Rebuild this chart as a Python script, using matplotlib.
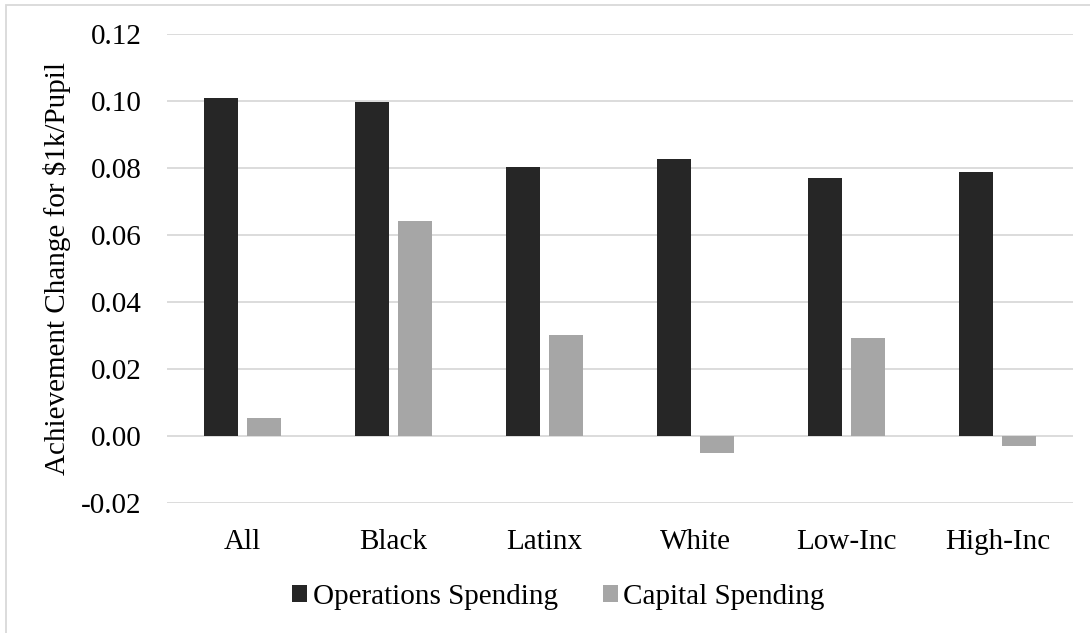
import numpy as np
import matplotlib
matplotlib.use("Agg")
import matplotlib.pyplot as plt
from matplotlib.patches import Rectangle, Patch

categories = ["All", "Black", "Latinx", "White", "Low-Inc", "High-Inc"]
operations = [0.1008, 0.0996, 0.0803, 0.0826, 0.0769, 0.0786]
capital = [0.0054, 0.0641, 0.0302, -0.0050, 0.0293, -0.0030]
yticks = [-0.02, 0.00, 0.02, 0.04, 0.06, 0.08, 0.10, 0.12]
series_names = ["Operations Spending", "Capital Spending"]

plt.rcParams["font.family"] = ["Liberation Serif", "DejaVu Serif"]

W, H = 1090, 633
FS = 21
fig = plt.figure(figsize=(W / 100, H / 100), dpi=100)
ax = fig.add_axes([167 / W, 1 - 503 / H, (1073 - 167) / W, (503 - 33.7) / H])

x = np.arange(len(categories))
bw = 0.225
off = 0.1425
ops_color = "#262626"
cap_color = "#a6a6a6"
ax.bar(x - off, operations, width=bw, color=ops_color, zorder=3)
ax.bar(x + off, capital, width=bw, color=cap_color, zorder=3)

ax.set_xlim(-0.5, len(categories) - 0.5)
ax.set_ylim(-0.02, 0.12)
ax.set_yticks(yticks)
ax.set_yticklabels([f"{v:.2f}" for v in yticks])
ax.set_xticks(x)
ax.set_xticklabels(categories)
ax.yaxis.grid(True, color="#d9d9d9", linewidth=1.3, zorder=0)
ax.xaxis.grid(False)
for s in ax.spines.values():
    s.set_visible(False)
ax.tick_params(axis="both", length=0, labelsize=FS, colors="black")
ax.tick_params(axis="y", pad=18.5)
ax.tick_params(axis="x", pad=18.5)

ax.set_ylabel("Achievement Change for $1k/Pupil", fontsize=FS)
ax.yaxis.set_label_coords(-96 / (1073 - 167), 0.5)

handles = [Patch(facecolor=ops_color), Patch(facecolor=cap_color)]
fig.legend(handles, series_names, loc="center", bbox_to_anchor=(558.5 / W, 1 - 597 / H),
           ncol=2, frameon=False, fontsize=FS, handlelength=0.5, handleheight=0.5,
           handletextpad=0.2, columnspacing=1.55)

fig.patches.append(Rectangle((6 / W, -0.1), 1.2, 1.1 - 5 / H, transform=fig.transFigure,
                             fill=False, edgecolor="#d9d9d9", linewidth=1.3))

fig.savefig("out.png", dpi=100, facecolor="white")
